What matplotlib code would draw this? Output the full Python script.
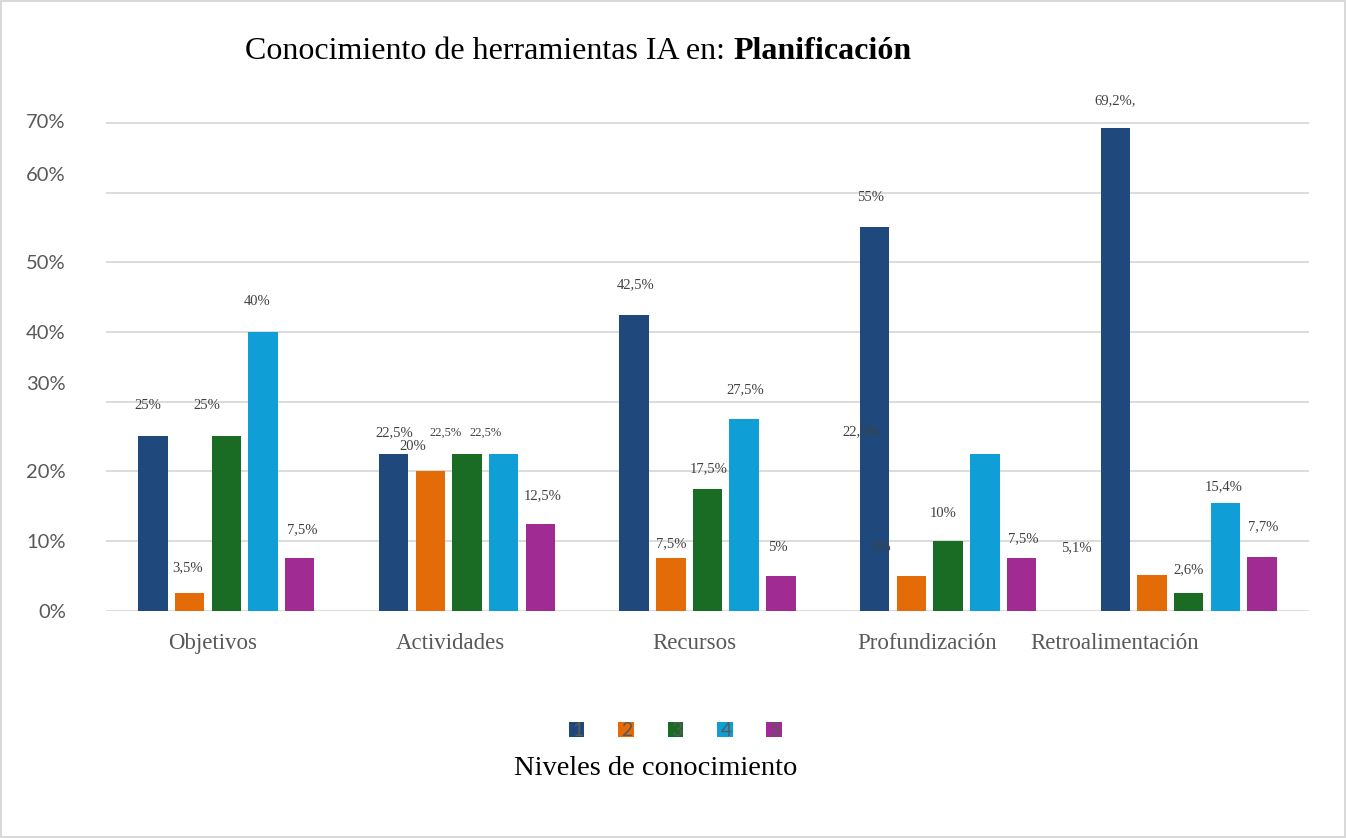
import numpy as np
import matplotlib.pyplot as plt

# datos
categorias = ['Objetivos', 'Actividades', 'Recursos', 'Profundización', 'Retroalimentación']
niveles = ['1', '2', '3', '4', '5']
nivel_1 = [25, 22.5, 42.5, 55, 69.2]
nivel_2 = [2.5, 20, 7.5, 5, 5.1]
nivel_3 = [25, 22.5, 17.5, 10, 2.6]
nivel_4 = [40, 22.5, 27.5, 22.5, 15.4]
nivel_5 = [7.5, 12.5, 5, 7.5, 7.7]
etiquetas_1 = ['25%', '22,5%', '42,5%', '55%', '69,2%,']
etiquetas_2 = ['3,5%', '20%', '7,5%', '5%', '5,1%']
etiquetas_3 = ['25%', '22,5%', '17,5%', '10%', '2,6%']
etiquetas_4 = ['40%', '22,5%', '27,5%', '22,5%', '15,4%']
etiquetas_5 = ['7,5%', '12,5%', '5%', '7,5%', '7,7%']
ticks_y = ['0%', '10%', '20%', '30%', '40%', '50%', '60%', '70%']

colores = ['#1F497D', '#E36C09', '#1A6B24', '#0F9ED5', '#A02B93']

# desplazamientos (px) de las etiquetas respecto al tope de cada barra
desp = [
    [(-5, 31), (1, 21), (1, 30), (-4, 30), (0, 28)],
    [(-2, 26), (-18, 25), (0, 15), (-31, 28), (-76, 28)],
    [(-20, 31), (-21, 21), (1, 20), (-5, 28), (0, 23)],
    [(-6, 30), (-18, 21), (1, 29), (-124, 22), (-2, 17)],
    [(3, 29), (2, 28), (-3, 28), (2, 20), (1, 30)],
]
# posicion vertical de los textos del eje y (algo desalineados en el original)
pos_ticks_y = [0, 10, 20, 32.7, 40, 50, 62.7, 70.3]
desp_cat = [-14, -17, -13, -21, -74]

serif = 'Liberation Serif'
sans = 'Lato'

fig = plt.figure(figsize=(13.46, 8.38), dpi=100)
fig.patch.set_edgecolor('#D9D9D9')
fig.patch.set_linewidth(1.5)
ax = fig.add_axes([0.0788, 0.2712, 0.8937, 0.5847])

series = [nivel_1, nivel_2, nivel_3, nivel_4, nivel_5]
etiquetas = [etiquetas_1, etiquetas_2, etiquetas_3, etiquetas_4, etiquetas_5]
x = np.arange(len(categorias))
paso = 0.1525
ancho = 0.1226
barras = []
for k, vals in enumerate(series):
    xs = x + (k - 2) * paso
    b = ax.bar(xs, vals, width=ancho, color=colores[k], zorder=3)
    barras.append(b)
    for i in range(len(vals)):
        chico = (i == 1 and k in (2, 3))
        ax.annotate(etiquetas[k][i], xy=(xs[i], vals[i]), xytext=desp[k][i],
                    textcoords='offset pixels', ha='center', va='center',
                    fontsize=9 if chico else 10.5, family=serif, color='#404040',
                    annotation_clip=False, zorder=4)

ax.set_xlim(-0.5, 4.5)
ax.set_ylim(0, 70)
ax.set_yticks(np.arange(0, 80, 10))
ax.yaxis.remove_overlapping_locs = False
ax.set_yticks(pos_ticks_y, minor=True)
ax.set_yticklabels(ticks_y, minor=True)
ax.grid(axis='y', which='major', color='#D9D9D9', linewidth=1.3, zorder=0)
ax.tick_params(axis='y', which='major', left=False, labelleft=False)
ax.tick_params(axis='y', which='minor', left=False, pad=27, labelsize=14.5, labelcolor='#595959')
for t in ax.get_yticklabels(minor=True):
    t.set_family(sans)
ax.set_xticks([])
for s in ax.spines.values():
    s.set_visible(False)

for i, c in enumerate(categorias):
    ax.annotate(c, xy=(i, 0), xycoords=('data', 'axes fraction'), xytext=(desp_cat[i], -33),
                textcoords='offset pixels', ha='center', va='center',
                fontsize=16.5, family=serif, color='#595959', annotation_clip=False)

# titulo
t1 = fig.text(245 / 1346, 1 - 66 / 838, 'Conocimiento de herramientas IA en: ',
              ha='left', va='bottom', fontsize=23, family=serif, color='black')
ax.annotate('Planificación', xy=(1, 0), xycoords=t1, ha='left', va='bottom',
            fontsize=23, family=serif, fontweight='bold', color='black',
            annotation_clip=False)

# leyenda
leg = fig.legend(barras, niveles, loc='center', bbox_to_anchor=(675 / 1346, 1 - 730.5 / 838),
                 ncol=5, frameon=False, handlelength=0.8, handleheight=0.8,
                 handletextpad=-0.63, columnspacing=1.79,
                 prop={'family': sans, 'size': 14})
for t in leg.get_texts():
    t.set_color('#595959')
fig.text(656 / 1346, 1 - 768 / 838, 'Niveles de conocimiento', ha='center', va='center',
         fontsize=20.5, family=serif, color='black')

fig.savefig('out.png', dpi=100)
